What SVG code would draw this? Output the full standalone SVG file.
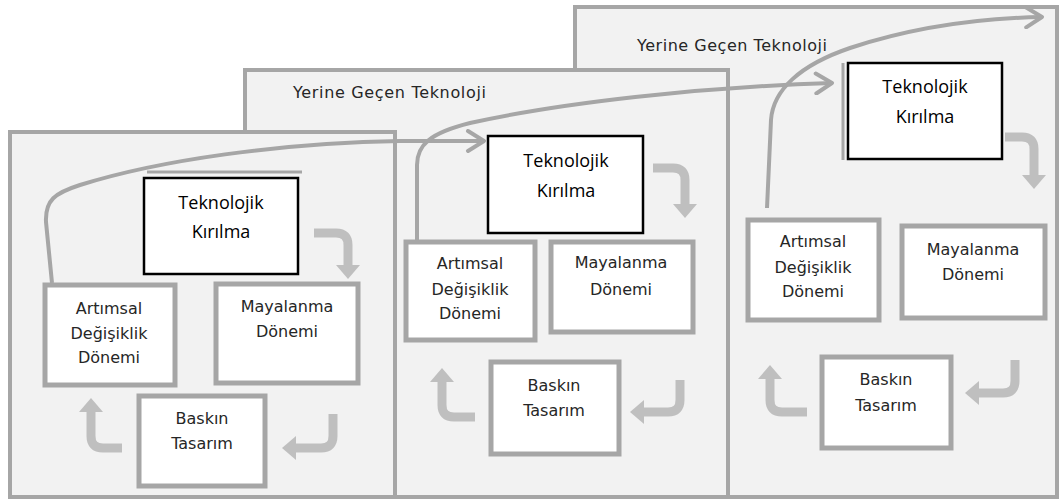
<svg xmlns="http://www.w3.org/2000/svg" width="1060" height="501" viewBox="0 0 1060 501">
  <defs>
    <style>
      .frame { fill: #f2f2f2; stroke: #a6a6a6; stroke-width: 4; }
      .box { fill: #ffffff; stroke: #a6a6a6; stroke-width: 5; }
      .kbox { fill: #ffffff; stroke: #000000; stroke-width: 2.5; }
      .ghost { fill: none; stroke: #a6a6a6; stroke-width: 3; }
      .t { font-family: "DejaVu Sans", Verdana, sans-serif; font-size: 16px; fill: #262626; text-anchor: middle; }
      .k { font-family: "Open Sans", "Noto Sans", sans-serif; font-size: 18px; fill: #000000; text-anchor: middle; }
      .lbl { font-family: "DejaVu Sans", Verdana, sans-serif; font-size: 16px; fill: #262626; }
      .flow { fill: none; stroke: #a6a6a6; stroke-width: 4; marker-end: url(#open); }
      .cycle { fill: none; stroke: #bfbfbf; stroke-width: 9; marker-end: url(#head); }
    </style>
    <!-- open chevron for the long transition curves -->
    <marker id="open" markerUnits="userSpaceOnUse" viewBox="0 0 22 24" markerWidth="22" markerHeight="24" refX="19" refY="12" orient="auto">
      <path d="M3 2 L19 12 L3 22" fill="none" stroke="#a6a6a6" stroke-width="4" stroke-linecap="round" stroke-linejoin="round"/>
    </marker>
    <!-- solid head for the thick cycle arrows -->
    <marker id="head" markerUnits="userSpaceOnUse" viewBox="0 0 14 24" markerWidth="14" markerHeight="24" refX="0" refY="12" orient="auto">
      <path d="M0 0 L14 12 L0 24 Z" fill="#bfbfbf"/>
    </marker>
  </defs>

  <rect width="1060" height="501" fill="#ffffff"/>

  <!-- stacked technology frames, back to front -->
  <g id="frame-3">
    <rect class="frame" x="575" y="7" width="482" height="490"/>
    <text class="lbl" x="637" y="51" textLength="190">Yerine Geçen Teknoloji</text>
  </g>
  <g id="frame-2">
    <rect class="frame" x="245" y="70" width="483" height="427"/>
    <text class="lbl" x="293" y="98" textLength="193">Yerine Geçen Teknoloji</text>
  </g>
  <g id="frame-1">
    <rect class="frame" x="10" y="132" width="385" height="365"/>
  </g>

  <!-- connectors -->
  <g id="connectors">
    <!-- transitions to the next technology -->
    <path class="flow" d="M52 283 L46 222 C45 200 55 193 80 185 C160 160 280 143 400 141 L484 141"/>
    <path class="flow" d="M417 240 L417 165 C417 145 430 133 470 123 C560 103 700 87 832 83"/>
    <path class="flow" d="M767 208 L771 120 C773 90 800 65 850 48 C920 25 990 18 1042 17"/>

    <!-- cycle, first frame -->
    <path class="cycle" d="M314 233 H336 Q348 233 348 245 V265"/>
    <path class="cycle" d="M333 414 V436 Q333 448 321 448 H296"/>
    <path class="cycle" d="M122 448 H103 Q91 448 91 436 V412"/>

    <!-- cycle, second frame -->
    <path class="cycle" d="M653 168 H673 Q685 168 685 180 V204"/>
    <path class="cycle" d="M680 380 V400 Q680 412 668 412 H644"/>
    <path class="cycle" d="M475 417 H454 Q442 417 442 405 V382"/>

    <!-- cycle, third frame -->
    <path class="cycle" d="M1005 137 H1022 Q1034 137 1034 149 V175"/>
    <path class="cycle" d="M1015 360 V381 Q1015 393 1003 393 H979"/>
    <path class="cycle" d="M807 412 H782 Q770 412 770 400 V379"/>
  </g>

  <!-- first frame nodes -->
  <g id="kirilma-1">
    <line class="ghost" x1="147" y1="172" x2="302" y2="172"/>
    <rect class="kbox" x="144" y="178" width="154" height="96"/>
    <text class="k" x="221" y="209">Teknolojik</text>
    <text class="k" x="221" y="238">Kırılma</text>
  </g>
  <g id="artimsal-1">
    <rect class="box" x="45" y="285" width="130" height="100"/>
    <text class="t" x="109" y="314">Artımsal</text>
    <text class="t" x="109" y="339">Değişiklik</text>
    <text class="t" x="109" y="363">Dönemi</text>
  </g>
  <g id="mayalanma-1">
    <rect class="box" x="216" y="284" width="142" height="99"/>
    <text class="t" x="287" y="312">Mayalanma</text>
    <text class="t" x="287" y="337">Dönemi</text>
  </g>
  <g id="baskin-1">
    <rect class="box" x="139" y="396" width="126" height="90"/>
    <text class="t" x="202" y="424">Baskın</text>
    <text class="t" x="202" y="449">Tasarım</text>
  </g>

  <!-- second frame nodes -->
  <g id="kirilma-2">
    <rect class="kbox" x="488" y="136" width="155" height="97"/>
    <text class="k" x="566" y="167">Teknolojik</text>
    <text class="k" x="566" y="197">Kırılma</text>
  </g>
  <g id="artimsal-2">
    <rect class="box" x="406" y="242" width="129" height="98"/>
    <text class="t" x="470" y="269">Artımsal</text>
    <text class="t" x="470" y="295">Değişiklik</text>
    <text class="t" x="470" y="319">Dönemi</text>
  </g>
  <g id="mayalanma-2">
    <rect class="box" x="551" y="242" width="142" height="90"/>
    <text class="t" x="621" y="268">Mayalanma</text>
    <text class="t" x="621" y="295">Dönemi</text>
  </g>
  <g id="baskin-2">
    <rect class="box" x="491" y="362" width="128" height="92"/>
    <text class="t" x="554" y="391">Baskın</text>
    <text class="t" x="554" y="416">Tasarım</text>
  </g>

  <!-- third frame nodes -->
  <g id="kirilma-3">
    <line class="ghost" x1="843" y1="63" x2="843" y2="160"/>
    <rect class="kbox" x="848" y="63" width="154" height="96"/>
    <text class="k" x="925" y="93">Teknolojik</text>
    <text class="k" x="925" y="123">Kırılma</text>
  </g>
  <g id="artimsal-3">
    <rect class="box" x="748" y="220" width="131" height="100"/>
    <text class="t" x="813" y="247">Artımsal</text>
    <text class="t" x="813" y="273">Değişiklik</text>
    <text class="t" x="813" y="297">Dönemi</text>
  </g>
  <g id="mayalanma-3">
    <rect class="box" x="902" y="226" width="143" height="92"/>
    <text class="t" x="973" y="255">Mayalanma</text>
    <text class="t" x="973" y="280">Dönemi</text>
  </g>
  <g id="baskin-3">
    <rect class="box" x="822" y="357" width="129" height="91"/>
    <text class="t" x="886" y="385">Baskın</text>
    <text class="t" x="886" y="411">Tasarım</text>
  </g>
</svg>
